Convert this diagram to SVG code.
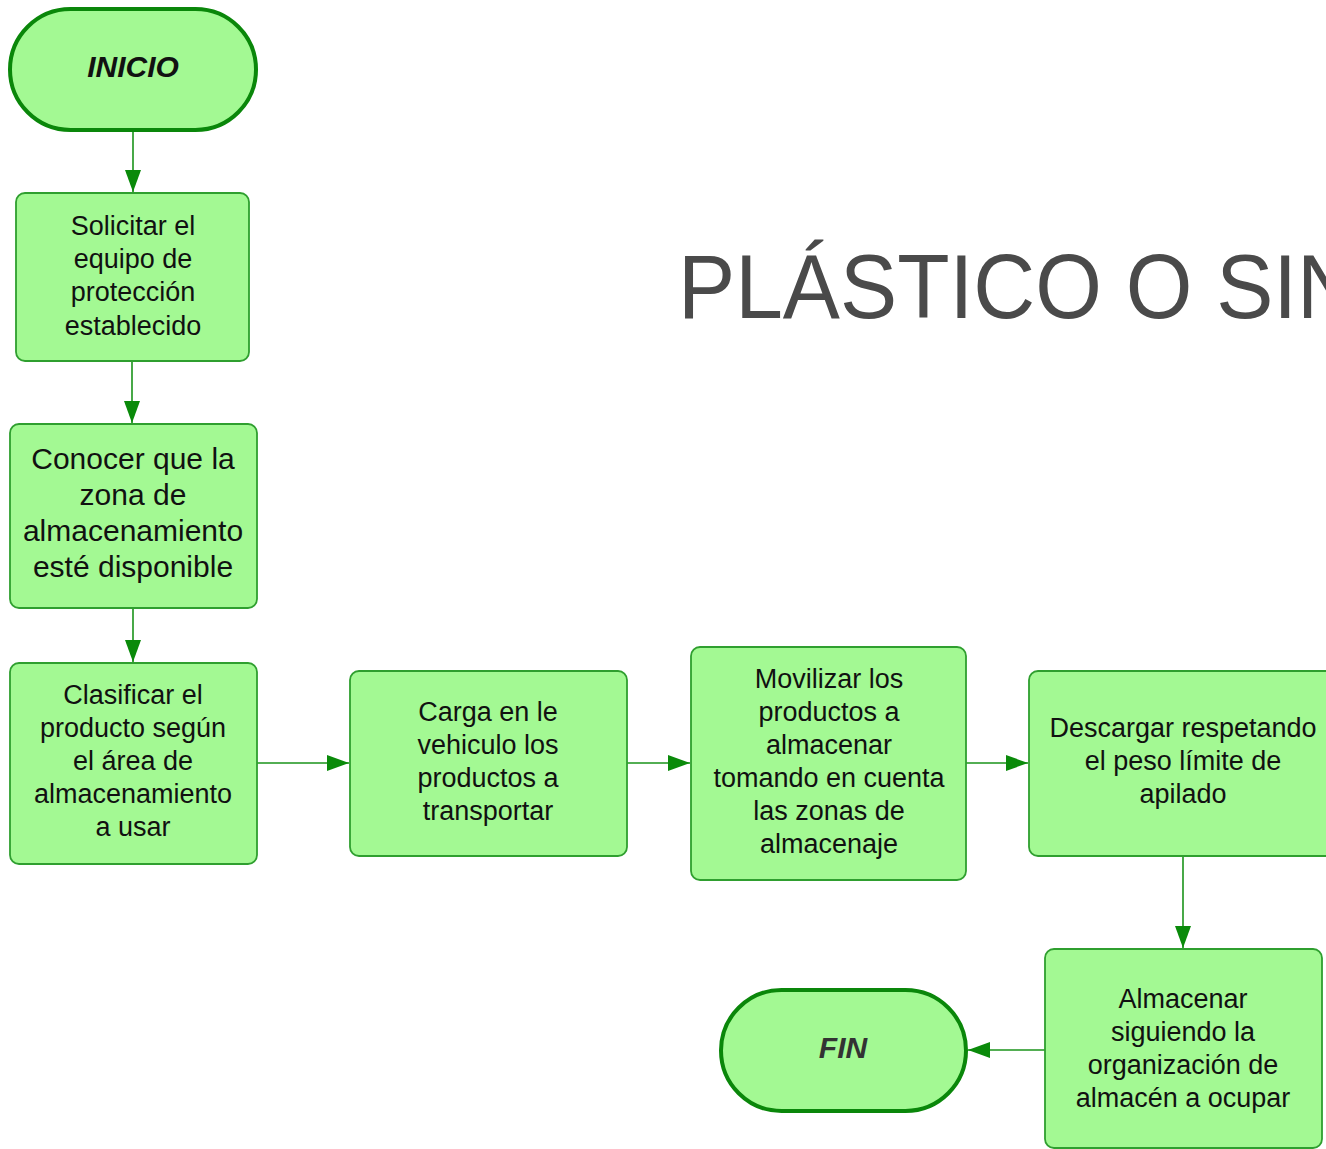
<svg xmlns="http://www.w3.org/2000/svg" width="1326" height="1149" viewBox="0 0 1326 1149">
<style>
.term{fill:#a3f993;stroke:#0a870a;stroke-width:4}
.box{fill:#a3f993;stroke:#2f9f2f;stroke-width:1.8}
.t{font-family:"Liberation Sans",Arial,sans-serif;font-size:27px;fill:#111;text-anchor:middle}
.tb{font-size:30px}
.tt{font-family:"Liberation Sans",Arial,sans-serif;font-size:30px;font-weight:bold;font-style:italic;text-anchor:middle}
.c{stroke:#1a931a;stroke-width:1.6;fill:none;marker-end:url(#ah)}
</style>
<defs>
<marker id="ah" markerUnits="userSpaceOnUse" markerWidth="24" markerHeight="18" refX="22" refY="8" orient="auto">
<path d="M0,0 L22,8 L0,16 Z" fill="#0a8a0a"/>
</marker>
</defs>
<rect width="1326" height="1149" fill="#ffffff"/>
<text x="678" y="318" font-family="'Liberation Sans',Arial,sans-serif" font-size="90" fill="#4a4a4a" textLength="681" lengthAdjust="spacingAndGlyphs">PLÁSTICO O SIN</text>
<g id="connectors">
<line class="c" x1="133" y1="131" x2="133" y2="192"/>
<line class="c" x1="132" y1="361" x2="132" y2="423"/>
<line class="c" x1="133" y1="608" x2="133" y2="662"/>
<line class="c" x1="257" y1="763" x2="349" y2="763"/>
<line class="c" x1="627" y1="763" x2="690" y2="763"/>
<line class="c" x1="966" y1="763" x2="1028" y2="763"/>
<line class="c" x1="1183" y1="856" x2="1183" y2="948"/>
<line class="c" x1="1045" y1="1050" x2="968" y2="1050"/>
</g>
<g id="inicio">
<rect class="term" x="10" y="9" width="246" height="121" rx="60.5"/>
<text class="tt" x="133" y="77" fill="#111">INICIO</text>
</g>
<g id="solicitar">
<rect class="box" x="16" y="193" width="233" height="168" rx="9"/>
<text class="t" x="133" y="235">Solicitar el</text>
<text class="t" x="133" y="268">equipo de</text>
<text class="t" x="133" y="301">protección</text>
<text class="t" x="133" y="335">establecido</text>
</g>
<g id="conocer">
<rect class="box" x="10" y="424" width="247" height="184" rx="9"/>
<text class="t tb" x="133" y="469">Conocer que la</text>
<text class="t tb" x="133" y="505">zona de</text>
<text class="t tb" x="133" y="541">almacenamiento</text>
<text class="t tb" x="133" y="577">esté disponible</text>
</g>
<g id="clasificar">
<rect class="box" x="10" y="663" width="247" height="201" rx="9"/>
<text class="t" x="133" y="704">Clasificar el</text>
<text class="t" x="133" y="737">producto según</text>
<text class="t" x="133" y="770">el área de</text>
<text class="t" x="133" y="803">almacenamiento</text>
<text class="t" x="133" y="836">a usar</text>
</g>
<g id="carga">
<rect class="box" x="350" y="671" width="277" height="185" rx="9"/>
<text class="t" x="488" y="721">Carga en le</text>
<text class="t" x="488" y="754">vehiculo los</text>
<text class="t" x="488" y="787">productos a</text>
<text class="t" x="488" y="820">transportar</text>
</g>
<g id="movilizar">
<rect class="box" x="691" y="647" width="275" height="233" rx="9"/>
<text class="t" x="829" y="688">Movilizar los</text>
<text class="t" x="829" y="721">productos a</text>
<text class="t" x="829" y="754">almacenar</text>
<text class="t" x="829" y="787">tomando en cuenta</text>
<text class="t" x="829" y="820">las zonas de</text>
<text class="t" x="829" y="853">almacenaje</text>
</g>
<g id="descargar">
<rect class="box" x="1029" y="671" width="308" height="185" rx="9"/>
<text class="t" x="1183" y="737">Descargar respetando</text>
<text class="t" x="1183" y="770">el peso límite de</text>
<text class="t" x="1183" y="803">apilado</text>
</g>
<g id="almacenar">
<rect class="box" x="1045" y="949" width="277" height="199" rx="9"/>
<text class="t" x="1183" y="1008">Almacenar</text>
<text class="t" x="1183" y="1041">siguiendo la</text>
<text class="t" x="1183" y="1074">organización de</text>
<text class="t" x="1183" y="1107">almacén a ocupar</text>
</g>
<g id="fin">
<rect class="term" x="721" y="990" width="245" height="121" rx="60.5"/>
<text class="tt" x="843" y="1058" fill="#333">FIN</text>
</g>
</svg>
